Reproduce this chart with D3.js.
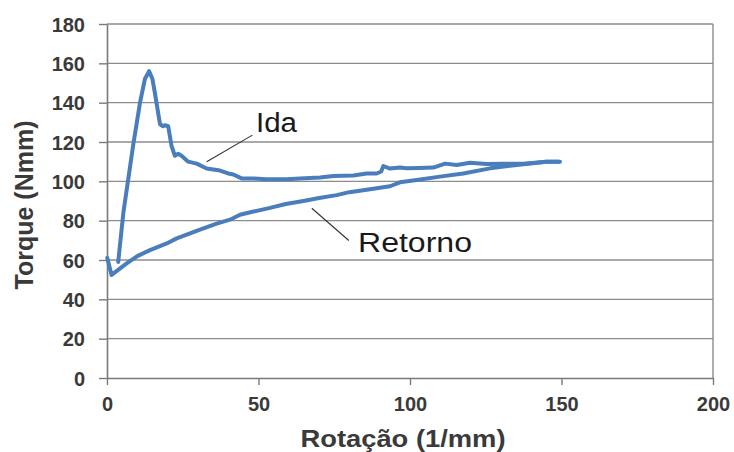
<!DOCTYPE html>
<html>
<head>
<meta charset="utf-8">
<script src="https://cdn.jsdelivr.net/npm/d3@7"></script>
<style>
  html, body { margin: 0; padding: 0; background: #fff; }
  svg { display: block; }
  text { font-family: Arial, "Liberation Sans", sans-serif; }
</style>
</head>
<body>
<svg id="chart" width="734" height="452"></svg>
<script>
// Torque vs. rotation: outbound ("Ida") and return ("Retorno") branches
const idaRotacao = [3.7, 5.4, 7, 8.7, 10.9, 12.5, 13.9, 15, 15.8, 17.5, 18.5, 19.1, 20.2, 21.3, 22.4, 23.5, 24.6, 26.8, 29.6, 32.9, 37.3, 40, 41.7, 44.4, 48.3, 52.7, 59.3, 63.7, 70.3, 74.7, 81.3, 85.7, 89, 90.5, 91.2, 93.4, 96.7, 98.9, 103, 107.7, 111.6, 115.4, 119.8, 125.3, 130.8, 137.4, 145, 149];
const idaTorque   = [59, 84, 101, 119, 140, 152, 156, 152, 145, 129, 128, 128.5, 128, 118, 113, 114, 113, 110, 109, 106.5, 105.5, 104, 103.5, 101.5, 101.5, 101, 101, 101.5, 102, 102.7, 103, 104, 104, 105, 107.8, 106.5, 107, 106.6, 106.8, 107, 109, 108.3, 109.4, 108.8, 109, 109, 110, 110];

const retornoRotacao = [149.5, 145, 135.2, 126.4, 117.6, 109.9, 102.2, 96.7, 93.4, 86.8, 80, 75.8, 70, 64.8, 59, 53.8, 48, 43.9, 40.6, 36.2, 30.7, 27.4, 23, 19.7, 14.2, 10, 6.5, 1.5, 0.1];
const retornoTorque  = [110, 110, 108.3, 106.6, 104, 102.4, 100.7, 99.5, 97.5, 96, 94.5, 93, 91.5, 90, 88.5, 86.5, 84.5, 83, 80.5, 78.5, 75.5, 73.5, 71, 68.4, 65, 62, 58.3, 52.4, 61];

const xTicks = [0, 50, 100, 150, 200];
const yTicks = [0, 20, 40, 60, 80, 100, 120, 140, 160, 180];

const xTitle = "Rotação (1/mm)";
const yTitle = "Torque (Nmm)";
const labelIda = "Ida";
const labelRetorno = "Retorno";

const svg = d3.select("#chart");

const x = d3.scaleLinear().domain([0, 200]).range([107, 713]);
const y = d3.scaleLinear().domain([0, 180]).range([378, 24]);

const gridColor = "#8c8c8c";
const axisColor = "#7a7a7a";
const lineColor = "#4a7dbb";

// horizontal gridlines
svg.append("g")
  .selectAll("line")
  .data(yTicks.filter(d => d > 0))
  .join("line")
  .attr("x1", x(0)).attr("x2", x(200))
  .attr("y1", d => y(d)).attr("y2", d => y(d))
  .attr("stroke", gridColor)
  .attr("stroke-width", 1.4);

// right border of the plot area
svg.append("line")
  .attr("x1", x(200)).attr("x2", x(200))
  .attr("y1", y(180)).attr("y2", y(0))
  .attr("stroke", gridColor).attr("stroke-width", 1.4);

// axes
const xAxis = svg.append("g")
  .attr("transform", `translate(0,${y(0)})`)
  .call(d3.axisBottom(x).tickValues(xTicks).tickSize(7).tickSizeOuter(0).tickFormat(d3.format("d")));
const yAxis = svg.append("g")
  .attr("transform", `translate(${x(0)},0)`)
  .call(d3.axisLeft(y).tickValues(yTicks).tickSize(8).tickSizeOuter(0).tickFormat(d3.format("d")));

[xAxis, yAxis].forEach(g => {
  g.select(".domain").attr("stroke", axisColor).attr("stroke-width", 1.6);
  g.selectAll(".tick line").attr("stroke", axisColor).attr("stroke-width", 1.4);
  g.selectAll(".tick text")
    .attr("fill", "#3a3a3a")
    .attr("font-size", 20)
    .attr("font-weight", "bold")
    .attr("font-family", "Arial, 'Liberation Sans', sans-serif");
});
xAxis.selectAll(".tick text").attr("y", 19).attr("dy", "0.71em").attr("transform", null);
xAxis.selectAll(".tick text").attr("dy", null).attr("y", 33);
yAxis.selectAll(".tick text").attr("x", -22).attr("dy", "0.36em");

// data lines
const line = d3.line().x(d => x(d[0])).y(d => y(d[1]));
const idaPts = idaRotacao.map((v, i) => [v, idaTorque[i]]);
const retPts = retornoRotacao.map((v, i) => [v, retornoTorque[i]]);

[retPts, idaPts].forEach(pts => {
  svg.append("path")
    .datum(pts)
    .attr("d", line)
    .attr("fill", "none")
    .attr("stroke", lineColor)
    .attr("stroke-width", 4)
    .attr("stroke-linejoin", "round")
    .attr("stroke-linecap", "round");
});

// series labels with leader lines
svg.append("line")
  .attr("x1", x(32.9)).attr("y1", y(110))
  .attr("x2", x(48)).attr("y2", y(123.5))
  .attr("stroke", "#333").attr("stroke-width", 1.1);
svg.append("text")
  .attr("x", 256).attr("y", 132)
  .attr("font-size", 27)
  .attr("fill", "#1a1a1a")
  .attr("textLength", 41).attr("lengthAdjust", "spacingAndGlyphs")
  .text(labelIda);

svg.append("line")
  .attr("x1", x(67.6)).attr("y1", y(86.3))
  .attr("x2", x(79.8)).attr("y2", y(69.9))
  .attr("stroke", "#333").attr("stroke-width", 1.1);
svg.append("text")
  .attr("x", 358).attr("y", 252)
  .attr("font-size", 27)
  .attr("fill", "#1a1a1a")
  .attr("textLength", 114).attr("lengthAdjust", "spacingAndGlyphs")
  .text(labelRetorno);

// axis titles
svg.append("text")
  .attr("x", 403).attr("y", 447)
  .attr("text-anchor", "middle")
  .attr("font-size", 23)
  .attr("font-weight", "bold")
  .attr("fill", "#3a3a3a")
  .attr("textLength", 205).attr("lengthAdjust", "spacingAndGlyphs")
  .text(xTitle);

svg.append("text")
  .attr("transform", "translate(33,205) rotate(-90)")
  .attr("text-anchor", "middle")
  .attr("font-size", 25)
  .attr("font-weight", "bold")
  .attr("fill", "#3a3a3a")
  .text(yTitle);
</script>
</body>
</html>
